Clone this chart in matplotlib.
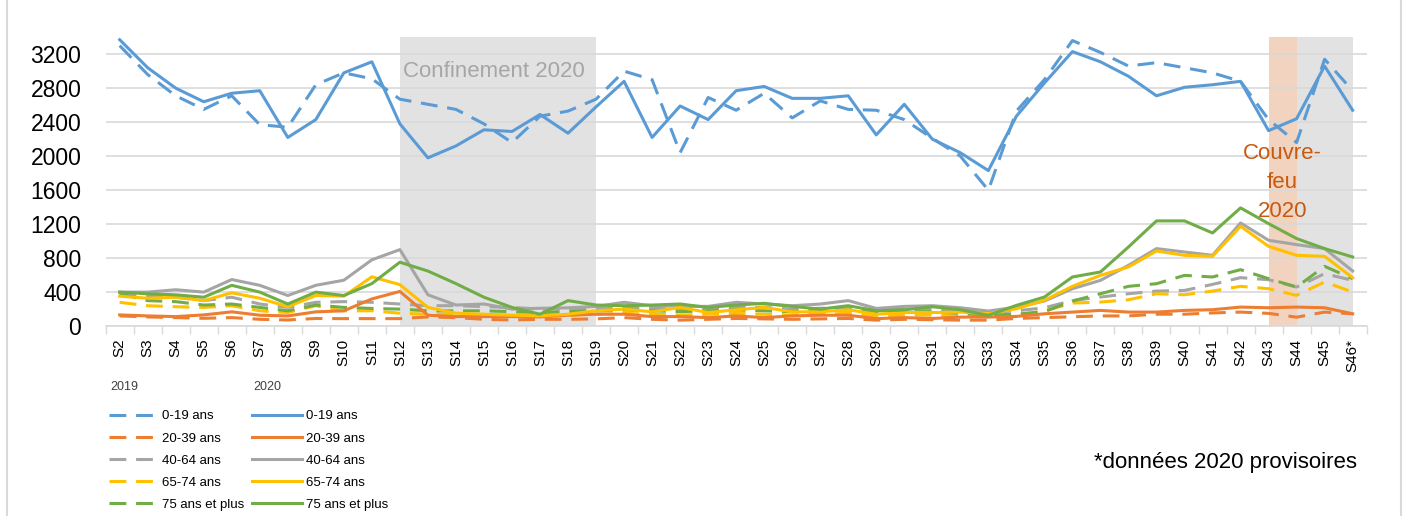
import numpy as np
import matplotlib.pyplot as plt
from matplotlib.lines import Line2D

weeks = ['S%d' % i for i in range(2, 46)] + ['S46*']

# 2020 (solid)
a0_19_2020 = [3370, 3040, 2800, 2640, 2740, 2770, 2220, 2430, 2980, 3110, 2380, 1980, 2120, 2310, 2290,
              2490, 2270, 2580, 2880, 2220, 2590, 2430, 2770, 2820, 2680, 2680, 2710, 2250, 2610, 2200,
              2040, 1830, 2470, 2860, 3230, 3110, 2940, 2710, 2810, 2840, 2880, 2300, 2440, 3060, 2540]
a20_39_2020 = [132, 120, 112, 132, 168, 128, 120, 168, 180, 320, 408, 128, 112, 112, 112,
               108, 128, 140, 140, 112, 112, 100, 120, 100, 120, 128, 128, 88, 100, 90,
               106, 106, 114, 145, 165, 185, 165, 165, 185, 193, 224, 216, 224, 216, 145]
a40_64_2020 = [400, 400, 428, 400, 548, 480, 360, 480, 540, 780, 900, 368, 248, 260, 200,
               210, 215, 232, 280, 240, 232, 232, 280, 260, 240, 260, 300, 208, 232, 240,
               216, 177, 224, 295, 440, 538, 715, 912, 872, 833, 1214, 1010, 959, 912, 649]
a65_74_2020 = [352, 328, 340, 300, 392, 328, 228, 360, 352, 580, 488, 220, 152, 140, 128,
               120, 140, 180, 200, 168, 220, 160, 192, 220, 168, 168, 192, 140, 160, 160,
               165, 145, 204, 303, 468, 597, 696, 884, 833, 821, 1175, 939, 833, 821, 570]
a75_2020 = [400, 380, 368, 340, 480, 400, 260, 400, 360, 500, 752, 648, 500, 340, 220,
            140, 300, 248, 240, 248, 260, 220, 248, 268, 232, 200, 240, 180, 192, 228,
            193, 126, 244, 342, 578, 637, 931, 1238, 1238, 1096, 1391, 1206, 1030, 912, 814]

# 2019 (dashed)
a0_19_2019 = [3300, 2960, 2710, 2550, 2710, 2370, 2340, 2840, 2980, 2910, 2670, 2610, 2550, 2380, 2160,
              2470, 2530, 2670, 3000, 2900, 2040, 2690, 2540, 2740, 2450, 2650, 2550, 2540, 2430, 2210,
              2000, 1600, 2530, 2900, 3360, 3220, 3060, 3100, 3040, 2980, 2880, 2430, 2160, 3140, 2770]
a20_39_2019 = [120, 108, 100, 92, 100, 80, 72, 90, 88, 88, 88, 108, 100, 80, 72,
               80, 80, 85, 100, 80, 70, 80, 90, 85, 80, 85, 90, 70, 80, 75,
               70, 70, 90, 100, 110, 120, 120, 140, 140, 155, 165, 150, 105, 165, 145]
a40_64_2019 = [380, 360, 340, 300, 340, 260, 220, 280, 288, 280, 260, 240, 240, 230, 220,
               200, 200, 210, 220, 210, 200, 210, 220, 220, 200, 210, 220, 190, 200, 200,
               180, 160, 180, 216, 300, 342, 381, 412, 420, 491, 570, 546, 460, 617, 538]
a65_74_2019 = [280, 240, 228, 220, 240, 180, 160, 240, 180, 180, 152, 140, 140, 130, 130,
               120, 130, 140, 150, 140, 130, 140, 150, 140, 130, 140, 150, 120, 130, 130,
               120, 110, 130, 180, 271, 283, 310, 381, 369, 412, 468, 440, 362, 519, 401]
a75_2019 = [380, 300, 288, 248, 260, 220, 180, 248, 220, 208, 200, 180, 180, 180, 170,
            160, 170, 180, 190, 180, 170, 180, 190, 180, 170, 180, 190, 160, 170, 170,
            150, 130, 140, 170, 295, 381, 468, 499, 597, 578, 664, 558, 460, 703, 558]

labels = ['0-19 ans', '20-39 ans', '40-64 ans', '65-74 ans', '75 ans et plus']
colors = ['#5B9BD5', '#ED7D31', '#A5A5A5', '#FFC000', '#70AD47']
data2019 = [a0_19_2019, a20_39_2019, a40_64_2019, a65_74_2019, a75_2019]
data2020 = [a0_19_2020, a20_39_2020, a40_64_2020, a65_74_2020, a75_2020]

plt.rcParams['font.family'] = ['Liberation Sans', 'DejaVu Sans']

fig = plt.figure(figsize=(14.05, 5.16), dpi=100)
ax = fig.add_axes([0.0752, 0.368, 0.8975, 0.56])
x = np.arange(len(weeks))

# shaded periods
ax.axvspan(10, 17, color='#e2e2e2', zorder=0, lw=0)
ax.axvspan(41, 42, color='#f2d3bf', zorder=0, lw=0)
ax.axvspan(42, 44, color='#e2e2e2', zorder=0, lw=0)

dashed = []
solid = []
for vals, c, lab in zip(data2019, colors, labels):
    l, = ax.plot(x, vals, color=c, lw=2.2, dashes=(5.5, 3.2), label=lab, zorder=2)
    dashed.append(l)
for vals, c, lab in zip(data2020, colors, labels):
    l, = ax.plot(x, vals, color=c, lw=2.2, label=lab, zorder=3)
    solid.append(l)

ax.set_xlim(-0.5, len(weeks) - 0.5)
ax.set_ylim(0, 3400)
ax.set_yticks(np.arange(0, 3201, 400))
ax.tick_params(axis='y', length=0, labelsize=16.5, pad=17.5)
ax.set_xticks(x)
ax.set_xticklabels(weeks, rotation=90, fontsize=11)
ax.set_xticks(np.arange(-0.5, len(weeks), 1), minor=True)
ax.tick_params(axis='x', which='major', length=0, pad=9)
ax.tick_params(axis='x', which='minor', length=6, color='#d9d9d9', width=1)
ax.grid(axis='y', color='#d9d9d9', lw=1.2)
ax.set_axisbelow(True)
for s in ['top', 'right', 'left']:
    ax.spines[s].set_visible(False)
ax.spines['bottom'].set_color('#d9d9d9')
ax.spines['bottom'].set_linewidth(1.2)

ax.text(13.35, 2990, 'Confinement 2020', color='#a6a6a6', fontsize=16, ha='center', va='center', zorder=1)
ax.text(41.5, 1690, 'Couvre-\nfeu\n2020', color='#c55a11', fontsize=16, ha='center', va='center',
        linespacing=1.5, zorder=1)

# legends, one column per year
leg_kw = dict(loc='upper left', frameon=False, fontsize=9.5, handlelength=3.8,
              handletextpad=0.25, labelspacing=0.75, borderpad=0, borderaxespad=0)
fig.legend(handles=dashed, bbox_to_anchor=(0.0775, 0.205), **leg_kw)
fig.legend(handles=solid, bbox_to_anchor=(0.1795, 0.205), **leg_kw)
fig.text(0.0785, 0.25, '2019', fontsize=9, color='#404040', va='center')
fig.text(0.180, 0.25, '2020', fontsize=9, color='#404040', va='center')
fig.text(0.966, 0.103, '*données 2020 provisoires', fontsize=16, ha='right', va='center')

# frame around the chart
fig.add_artist(Line2D([0.005, 0.005], [0, 1], color='#d9d9d9', lw=1.5))
fig.add_artist(Line2D([0.997, 0.997], [0, 1], color='#d9d9d9', lw=1.5))

fig.savefig('out.png', dpi=100)
